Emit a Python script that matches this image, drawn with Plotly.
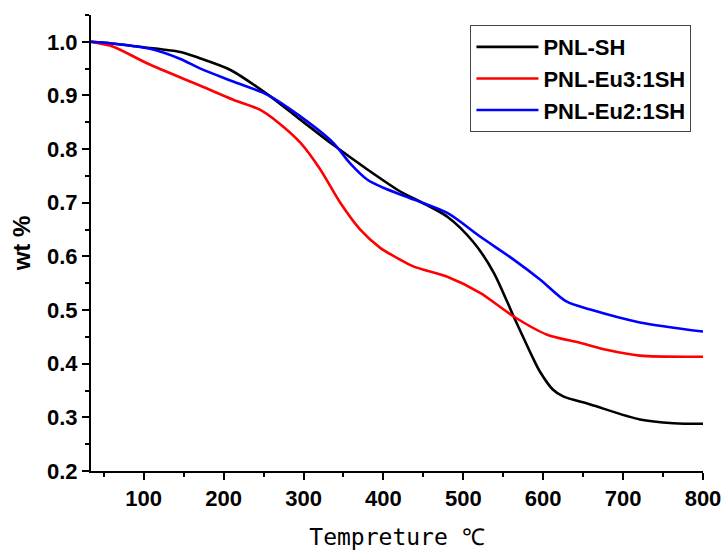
import plotly.graph_objects as go

# PNL-SH (black)
t_sh = [34, 60, 100, 146, 171, 208, 255, 296, 337, 380, 421, 438, 480, 513, 538, 563, 588, 596, 612, 625, 659, 721, 763, 800]
w_sh = [1.0, 0.997, 0.99, 0.981, 0.969, 0.948, 0.902, 0.855, 0.808, 0.762, 0.721, 0.708, 0.674, 0.626, 0.570, 0.488, 0.408, 0.385, 0.352, 0.339, 0.324, 0.296, 0.289, 0.288]

# PNL-Eu3:1SH (red)
t_eu3 = [34, 62, 104, 171, 212, 246, 267, 296, 321, 346, 371, 396, 421, 438, 480, 521, 563, 605, 646, 679, 721, 800]
w_eu3 = [1.0, 0.991, 0.960, 0.918, 0.892, 0.873, 0.851, 0.812, 0.762, 0.700, 0.650, 0.616, 0.594, 0.581, 0.562, 0.532, 0.488, 0.454, 0.439, 0.426, 0.415, 0.413]

# PNL-Eu2:1SH (blue)
t_eu2 = [34, 60, 108, 146, 171, 212, 255, 296, 337, 358, 380, 400, 438, 480, 521, 563, 596, 629, 659, 721, 800]
w_eu2 = [1.0, 0.997, 0.987, 0.968, 0.950, 0.926, 0.901, 0.861, 0.812, 0.774, 0.743, 0.728, 0.706, 0.681, 0.637, 0.594, 0.557, 0.516, 0.501, 0.477, 0.460]

names = ["PNL-SH", "PNL-Eu3:1SH", "PNL-Eu2:1SH"]
colors = ["#000000", "#ff0000", "#0000ff"]

x_ticks = [100, 200, 300, 400, 500, 600, 700, 800]
y_ticks = [0.2, 0.3, 0.4, 0.5, 0.6, 0.7, 0.8, 0.9, 1.0]

fig = go.Figure()
for t, w, n, c in zip([t_sh, t_eu3, t_eu2], [w_sh, w_eu3, w_eu2], names, colors):
    fig.add_trace(go.Scatter(x=t, y=w, mode="lines", name="<b>" + n + "</b>",
                             line=dict(color=c, width=2.6, shape="spline", smoothing=0.8)))

tickfont = dict(family="Arial", size=22, color="black")

fig.update_layout(
    width=728, height=554,
    margin=dict(l=91, r=25, t=15, b=83, autoexpand=False),
    plot_bgcolor="white", paper_bgcolor="white",
    showlegend=True,
    legend=dict(x=0.62, y=0.978, xanchor="left", yanchor="top",
                bordercolor="#444444", borderwidth=1, bgcolor="white",
                font=dict(family="Arial", size=22, color="black"),
                tracegroupgap=0, itemwidth=62),
    xaxis=dict(range=[34, 800], showline=True, linecolor="black", linewidth=2,
               automargin=False,
               ticks="outside", ticklen=7, tickwidth=2, tickcolor="black",
               tickvals=x_ticks, ticktext=["<b>%d</b>" % v for v in x_ticks],
               minor=dict(ticks="outside", ticklen=4, tickwidth=2, tickcolor="black",
                          tickvals=[50, 150, 250, 350, 450, 550, 650, 750]),
               showgrid=False, zeroline=False, tickfont=tickfont,
               title=dict(text="Tempreture ℃", standoff=18,
                          font=dict(family="DejaVu Sans Mono", size=23, color="black"))),
    yaxis=dict(range=[0.2, 1.05], showline=True, linecolor="black", linewidth=2,
               automargin=False,
               ticks="outside", ticklen=7, tickwidth=2, tickcolor="black",
               tickvals=y_ticks, ticktext=["<b>%.1f</b>" % v for v in y_ticks],
               minor=dict(ticks="outside", ticklen=4, tickwidth=2, tickcolor="black",
                          tickvals=[0.25, 0.35, 0.45, 0.55, 0.65, 0.75, 0.85, 0.95, 1.05]),
               showgrid=False, zeroline=False, tickfont=tickfont,
               title=dict(text="<b>wt %</b>", standoff=10,
                          font=dict(family="Arial", size=24, color="black"))),
)

fig.write_html("out.html", config={"displayModeBar": False},
               post_script="document.body.style.margin='0';")
